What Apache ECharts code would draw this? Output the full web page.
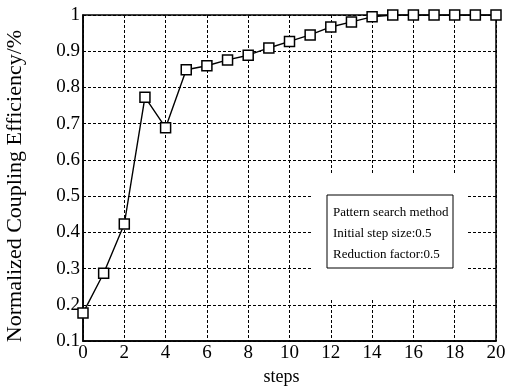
<!DOCTYPE html>
<html>
<head>
<meta charset="utf-8">
<script src="https://cdn.jsdelivr.net/npm/echarts@6/dist/echarts.min.js"></script>
<style>
  html, body { margin: 0; padding: 0; background: #fff; }
  #main { width: 505px; height: 386px; }
</style>
</head>
<body>
<div id="main"></div>
<script>
// steps 0..20 and the efficiency
const steps = [0, 1, 2, 3, 4, 5, 6, 7, 8, 9, 10, 11, 12, 13, 14, 15, 16, 17, 18, 19, 20];
const efficiency = [0.177, 0.287, 0.423, 0.773, 0.689, 0.849, 0.86, 0.876, 0.889, 0.909, 0.927,
  0.945, 0.967, 0.981, 0.995, 1.0, 1.0, 1.0, 1.0, 1.0, 1.0];
const noteLines = ["Pattern search method", "Initial step size:0.5", "Reduction factor:0.5"];

const serif = "Liberation Serif";
const dashed = { show: true, lineStyle: { color: "#000", type: [3, 2], width: 1 } };

let myChart = echarts.init(document.getElementById("main"));
myChart.setOption({
  animation: false,
  backgroundColor: "#fff",
  grid: {
    left: 83, top: 15, right: 9, bottom: 45,
    outerBoundsMode: "none",
    show: true, borderColor: "#000", borderWidth: 1.5
  },
  xAxis: {
    type: "value",
    min: 0, max: 20, interval: 2,
    name: "steps",
    nameLocation: "middle",
    nameGap: 20,
    nameTextStyle: { fontFamily: serif, fontSize: 18, color: "#000", padding: [0, 16, 0, 0] },
    axisLine: { lineStyle: { color: "#000", width: 1.5 } },
    axisTick: { show: false },
    axisLabel: { fontFamily: serif, fontSize: 19, color: "#000", margin: 3 },
    splitLine: dashed
  },
  yAxis: {
    type: "value",
    min: 0.1, max: 1, interval: 0.1,
    name: "Normalized Coupling Efficiency/%",
    nameLocation: "middle",
    nameGap: 57,
    nameTextStyle: { fontFamily: serif, fontSize: 22, color: "#000", padding: [0, 16, 0, 0] },
    axisLine: { show: true, lineStyle: { color: "#000", width: 1.5 } },
    axisTick: { show: false },
    axisLabel: {
      fontFamily: serif, fontSize: 19, color: "#000", margin: 3,
      formatter: v => (Math.round(v * 10) / 10).toString()
    },
    splitLine: dashed
  },
  series: [
    {
      type: "line",
      data: steps.map((s, i) => [s, efficiency[i]]),
      symbol: "rect",
      symbolSize: 10,
      showAllSymbol: true,
      lineStyle: { color: "#000", width: 1.4 },
      itemStyle: { color: "#fff", borderColor: "#000", borderWidth: 1.5 },
      z: 5
    }
  ],
  graphic: [
    // white patch behind the note, hides the grid lines
    { type: "rect", shape: { x: 313, y: 175, width: 154, height: 123 }, style: { fill: "#fff" }, z: 10 },
    { type: "rect", shape: { x: 327, y: 195, width: 126, height: 73 },
      style: { fill: "#fff", stroke: "#000", lineWidth: 1 }, z: 11 },
    ...noteLines.map((t, i) => ({
      type: "text", x: 333, y: 213 + i * 21, z: 12,
      style: { text: t, fontFamily: serif, fontSize: 13, fill: "#000", verticalAlign: "middle" }
    }))
  ]
});
</script>
</body>
</html>
